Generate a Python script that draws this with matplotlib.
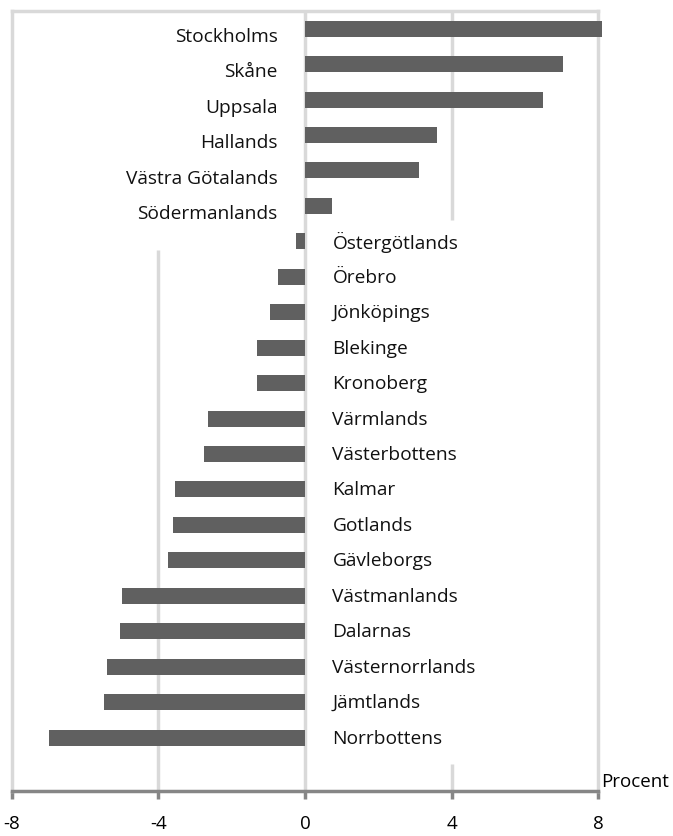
import matplotlib
matplotlib.use('Agg')
import matplotlib.pyplot as plt

lan = ['Stockholms', 'Skåne', 'Uppsala', 'Hallands', 'Västra Götalands',
       'Södermanlands', 'Östergötlands', 'Örebro', 'Jönköpings', 'Blekinge',
       'Kronoberg', 'Värmlands', 'Västerbottens', 'Kalmar', 'Gotlands',
       'Gävleborgs', 'Västmanlands', 'Dalarnas', 'Västernorrlands',
       'Jämtlands', 'Norrbottens']
procent = [8.1, 7.05, 6.5, 3.6, 3.1, 0.75, -0.25, -0.75, -0.95, -1.3,
           -1.3, -2.65, -2.75, -3.55, -3.6, -3.75, -5.0, -5.05, -5.4,
           -5.5, -7.0]
ticks = [-8, -4, 0, 4, 8]

plt.rcParams['font.family'] = ['Open Sans', 'DejaVu Sans']

fig = plt.figure(figsize=(6.73, 8.37), dpi=100)
ax = fig.add_axes([0.0178, 0.0541, 0.8708, 0.9316])

grid = '#d9d9d9'
n = len(lan)
n_pos = sum(1 for v in procent if v > 0)
ypos = list(range(n))

# gridlines (hidden where the labels sit, as in the original)
ax.vlines(-4, n_pos + 0.23, n + 0.5, color=grid, lw=2.5, zorder=1)
ax.vlines(4, -0.5, n_pos - 0.6, color=grid, lw=2.5, zorder=1)
ax.vlines(4, n - 0.24, n + 0.5, color=grid, lw=2.5, zorder=1)
ax.vlines(0, -0.5, n + 0.5, color=grid, lw=2.5, zorder=1)

bars = ax.barh(ypos, procent, height=0.45, color='#606060', zorder=3)
for b in bars:
    b.set_clip_on(False)

for y, name, v in zip(ypos, lan, procent):
    if v > 0:
        ax.text(-0.75, y + 0.2, name, ha='right', va='center', fontsize=13.8, color='#111111')
    else:
        ax.text(0.75, y, name, ha='left', va='center', fontsize=13.8, color='#111111')

ax.set_xlim(-8, 8)
ax.set_ylim(n + 0.5, -0.5)
ax.set_yticks([])
ax.set_xticks(ticks)
ax.set_xticklabels([str(t) for t in ticks], fontsize=13.5)
ax.tick_params(axis='x', length=6, width=2.5, color='#868686', pad=11)

for s in ['top', 'left', 'right']:
    ax.spines[s].set_color(grid)
    ax.spines[s].set_linewidth(2.5)
ax.spines['bottom'].set_color('#868686')
ax.spines['bottom'].set_linewidth(2.5)
ax.spines['bottom'].set_zorder(4)

ax.text(1.006, 0.013, 'Procent', transform=ax.transAxes, ha='left', va='center', fontsize=13.5)

fig.savefig('out.png', dpi=100)
